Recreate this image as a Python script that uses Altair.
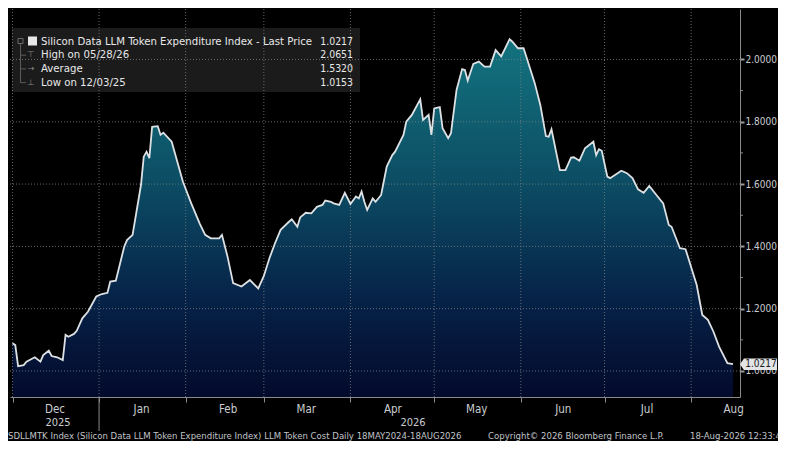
import altair as alt
import pandas as pd

# ---------------- data ----------------
dates = [
    "2025-12-01", "2025-12-02", "2025-12-03", "2025-12-05", "2025-12-06", "2025-12-09",
    "2025-12-11", "2025-12-12", "2025-12-14", "2025-12-15", "2025-12-17", "2025-12-19",
    "2025-12-20", "2025-12-21", "2025-12-23", "2025-12-24", "2025-12-26", "2025-12-28",
    "2025-12-31", "2026-01-02", "2026-01-04", "2026-01-05", "2026-01-07", "2026-01-10",
    "2026-01-11", "2026-01-13", "2026-01-16", "2026-01-17", "2026-01-18", "2026-01-19",
    "2026-01-20", "2026-01-22", "2026-01-23", "2026-01-24", "2026-01-27", "2026-01-31",
    "2026-02-03", "2026-02-06", "2026-02-08", "2026-02-10", "2026-02-13", "2026-02-14",
    "2026-02-16", "2026-02-18", "2026-02-21", "2026-02-24", "2026-02-27", "2026-03-01",
    "2026-03-03", "2026-03-05", "2026-03-07", "2026-03-10", "2026-03-11", "2026-03-13",
    "2026-03-14", "2026-03-16", "2026-03-18", "2026-03-20", "2026-03-22", "2026-03-23",
    "2026-03-25", "2026-03-26", "2026-03-28", "2026-03-30", "2026-04-01", "2026-04-03",
    "2026-04-04", "2026-04-05", "2026-04-06", "2026-04-07", "2026-04-09", "2026-04-10",
    "2026-04-12", "2026-04-14", "2026-04-16", "2026-04-17", "2026-04-20", "2026-04-21",
    "2026-04-23", "2026-04-26", "2026-04-27", "2026-04-29", "2026-04-30", "2026-05-01",
    "2026-05-03", "2026-05-04", "2026-05-06", "2026-05-07", "2026-05-09", "2026-05-11",
    "2026-05-12", "2026-05-13", "2026-05-15", "2026-05-17", "2026-05-19", "2026-05-21",
    "2026-05-23", "2026-05-25", "2026-05-28", "2026-05-29", "2026-05-31", "2026-06-02",
    "2026-06-03", "2026-06-06", "2026-06-08", "2026-06-10", "2026-06-11", "2026-06-12",
    "2026-06-14", "2026-06-15", "2026-06-17", "2026-06-19", "2026-06-20", "2026-06-22",
    "2026-06-24", "2026-06-27", "2026-06-28", "2026-06-29", "2026-06-30", "2026-07-02",
    "2026-07-03", "2026-07-07", "2026-07-09", "2026-07-11", "2026-07-13", "2026-07-15",
    "2026-07-17", "2026-07-20", "2026-07-22", "2026-07-24", "2026-07-25", "2026-07-28",
    "2026-07-30", "2026-08-03", "2026-08-05", "2026-08-07", "2026-08-09", "2026-08-11",
    "2026-08-14", "2026-08-16",
]
values = [
    1.089, 1.083, 1.0153, 1.019, 1.030, 1.044,
    1.030, 1.051, 1.065, 1.048, 1.044, 1.035,
    1.116, 1.110, 1.119, 1.129, 1.169, 1.190,
    1.239, 1.247, 1.251, 1.287, 1.290, 1.399,
    1.420, 1.437, 1.597, 1.688, 1.704, 1.683,
    1.784, 1.786, 1.758, 1.765, 1.736, 1.608,
    1.538, 1.474, 1.437, 1.426, 1.426, 1.437,
    1.367, 1.282, 1.271, 1.292, 1.265, 1.305,
    1.362, 1.410, 1.453, 1.479, 1.487, 1.463,
    1.493, 1.508, 1.506, 1.527, 1.533, 1.547,
    1.543, 1.538, 1.533, 1.572, 1.536, 1.560,
    1.554, 1.576, 1.543, 1.517, 1.554, 1.543,
    1.565, 1.656, 1.693, 1.704, 1.758, 1.800,
    1.822, 1.872, 1.806, 1.822, 1.758, 1.843,
    1.847, 1.779, 1.747, 1.763, 1.902, 1.969,
    1.966, 1.932, 1.986, 1.993, 1.977, 1.977,
    2.030, 2.010, 2.0651, 2.057, 2.036, 2.036,
    2.009, 1.924, 1.854, 1.754, 1.752, 1.776,
    1.688, 1.645, 1.645, 1.685, 1.686, 1.675,
    1.715, 1.736, 1.693, 1.712, 1.707, 1.624,
    1.619, 1.643, 1.635, 1.619, 1.583, 1.572,
    1.594, 1.560, 1.538, 1.469, 1.463, 1.394,
    1.391, 1.276, 1.180, 1.164, 1.126, 1.078,
    1.025, 1.0217,
]

y_major = [1.0, 1.2, 1.4, 1.6, 1.8, 2.0]
y_minor = [1.1, 1.3, 1.5, 1.7, 1.9]
month_starts = ["2025-12-01", "2026-01-01", "2026-02-01", "2026-03-01", "2026-04-01",
                "2026-05-01", "2026-06-01", "2026-07-01", "2026-08-01"]
year_labels = ["2025", "2026"]
legend_labels = ["Silicon Data LLM Token Expenditure Index - Last Price",
                 "High on 05/28/26", "Average", "Low on 12/03/25"]
legend_values = ["1.0217", "2.0651", "1.5320", "1.0153"]
legend_glyphs = ["", "\u22a4", "\u2192", "\u22a5"]
last_price = 1.0217
footer_left = ("SDLLMTK Index (Silicon Data LLM Token Expenditure Index) "
               "LLM Token Cost Daily 18MAY2024-18AUG2026")
footer_mid = "Copyright\u00a9 2026 Bloomberg Finance L.P."
footer_right = "18-Aug-2026 12:33:45"

# ---------------- styling ----------------
FONT = "DejaVu Sans Condensed, Liberation Sans Narrow, Liberation Sans, sans-serif"
W, H = 730, 388
OX = 2
Y_MIN, Y_MAX = 0.9165, 2.162
LABEL = "#c9cdd1"
GRID = "#7a7f85"

df = pd.DataFrame({"date": dates, "value": values})
one = pd.DataFrame({"k": [0]})

def dt(s):
    y, m, d = (int(p) for p in s.split("-"))
    return alt.DateTime(year=y, month=m, date=d, utc=True)

x_scale = alt.Scale(type="utc",
                    domain=[alt.DateTime(year=2025, month=11, date=30, hours=2, minutes=30, utc=True),
                            alt.DateTime(year=2026, month=8, date=18, hours=12, utc=True)])
y_scale = alt.Scale(domain=[Y_MIN, Y_MAX], zero=False, nice=False)

x_enc = alt.X("date:T", scale=x_scale,
              axis=alt.Axis(values=[dt(s) for s in month_starts], format="%b", title=None,
                            grid=False, labelOffset=42, labelColor=LABEL, labelFont=FONT,
                            labelFontSize=11.5, labelPadding=1, tickSize=5, tickColor="#8a8a8a",
                            domainColor="#8a8a8a", labelFlush=False, labelOverlap=False))
y_enc = alt.Y("value:Q", scale=y_scale,
              axis=alt.Axis(orient="right", values=y_major, format=".4f", title=None, grid=False,
                            labelColor=LABEL, labelFont=FONT, labelFontSize=10, labelPadding=1,
                            tickSize=4, tickWidth=2, tickColor="#9a9a9a", domainColor="#8a8a8a"))

gradient = alt.Gradient(
    gradient="linear", x1=0, x2=0, y1=0, y2=1,
    stops=[alt.GradientStop(color="#13737f", offset=0),
           alt.GradientStop(color="#0c4d64", offset=0.4),
           alt.GradientStop(color="#062348", offset=0.72),
           alt.GradientStop(color="#030a2c", offset=1)])

area = alt.Chart(df).mark_area(fill=gradient, clip=True).encode(
    x=x_enc, y=y_enc, y2=alt.datum(Y_MIN))

legend_box = alt.Chart(one).mark_rect(color="#1b1b1b").encode(
    x=alt.value(OX), x2=alt.value(OX + 348), y=alt.value(19), y2=alt.value(83))

hgrid = alt.Chart(pd.DataFrame({"value": y_major})).mark_rule(
    color=GRID, strokeDash=[1, 2], strokeWidth=1, opacity=0.8).encode(y=alt.Y("value:Q", scale=y_scale))
vgrid = alt.Chart(pd.DataFrame({"date": month_starts})).mark_rule(
    color=GRID, strokeDash=[1, 2], strokeWidth=1, opacity=0.8).encode(x=alt.X("date:T", scale=x_scale))

line = alt.Chart(df).mark_line(color="#dde1e4", strokeWidth=1.8).encode(
    x=alt.X("date:T", scale=x_scale), y=alt.Y("value:Q", scale=y_scale))

minor = alt.Chart(pd.DataFrame({"value": y_minor})).mark_rule(color="#8a8a8a").encode(
    y=alt.Y("value:Q", scale=y_scale), x=alt.value(W), x2=alt.value(W + 3))

price_box = alt.Chart(one).mark_point(
    shape="M-1.8,0 L-1.45,-0.5 L1.45,-0.5 L1.45,0.5 L-1.45,0.5 Z",
    size=520, filled=True, fill="#e2e4e6", opacity=1, strokeWidth=0).encode(
    x=alt.value(W + 20.5), y=alt.datum(last_price))
price_text = alt.Chart(one).mark_text(
    text=f"{last_price:.4f}", font=FONT, fontSize=10, color="#1a1a1a", align="center",
    baseline="middle").encode(x=alt.value(W + 21), y=alt.datum(last_price))

year_sep = alt.Chart(pd.DataFrame({"date": [month_starts[1]]})).mark_rule(color="#8a8a8a").encode(
    x=alt.X("date:T", scale=x_scale), y=alt.value(H), y2=alt.value(H + 34))

layers = [area, legend_box, hgrid, vgrid, line, minor, price_box, price_text, year_sep]

# legend rows
icon = alt.Chart(one).mark_rect(color="#e8e8e8").encode(
    x=alt.value(OX + 16), x2=alt.value(OX + 25), y=alt.value(27.5), y2=alt.value(36.5))
small_icon = alt.Chart(one).mark_rect(fill="#1b1b1b", stroke="#6a6a6a", strokeWidth=1).encode(
    x=alt.value(OX + 6), x2=alt.value(OX + 11), y=alt.value(29.5), y2=alt.value(34.5))
tree = alt.Chart(one).mark_rule(color="#5a5a5a").encode(
    x=alt.value(OX + 8.5), y=alt.value(35), y2=alt.value(74))
layers += [icon, small_icon, tree]
for i, (lab, val, gl) in enumerate(zip(legend_labels, legend_values, legend_glyphs)):
    yy = 32.5 + i * 13.7
    layers.append(alt.Chart(one).mark_text(
        text=lab, font=FONT, fontSize=11.3, color="#e8e8e8", align="left", baseline="middle"
    ).encode(x=alt.value(OX + 29), y=alt.value(yy)))
    layers.append(alt.Chart(one).mark_text(
        text=val, font=FONT, fontSize=10.4, color="#e8e8e8", align="right", baseline="middle"
    ).encode(x=alt.value(OX + 341), y=alt.value(yy)))
    if gl:
        layers.append(alt.Chart(one).mark_text(
            text=gl, font="DejaVu Sans", fontSize=8, color="#8a8a8a", align="center",
            baseline="middle").encode(x=alt.value(OX + 19), y=alt.value(yy)))
        layers.append(alt.Chart(one).mark_rule(color="#5a5a5a").encode(
            x=alt.value(OX + 8.5), x2=alt.value(OX + 14), y=alt.value(yy)))

# year labels and footer
for txt, xx in zip(year_labels, [48, 403]):
    layers.append(alt.Chart(one).mark_text(
        text=txt, font=FONT, fontSize=11, color=LABEL, align="center", baseline="middle"
    ).encode(x=alt.value(xx), y=alt.value(H + 26)))
for txt, xx in zip([footer_left, footer_mid, footer_right], [-2, 478, 680]):
    layers.append(alt.Chart(one).mark_text(
        text=txt, font=FONT, fontSize=9.5, color="#c0c4c8", align="left", baseline="middle"
    ).encode(x=alt.value(xx), y=alt.value(H + 39)))

chart = alt.layer(*layers).properties(
    width=W, height=H,
    autosize=alt.AutoSizeParams(type="none"),
    padding={"left": 2, "top": 1, "right": 770 - 2 - W, "bottom": 44},
    background="black",
).configure_view(strokeWidth=0)

chart.save("out.html", embed_options={"renderer": "svg", "actions": False})
